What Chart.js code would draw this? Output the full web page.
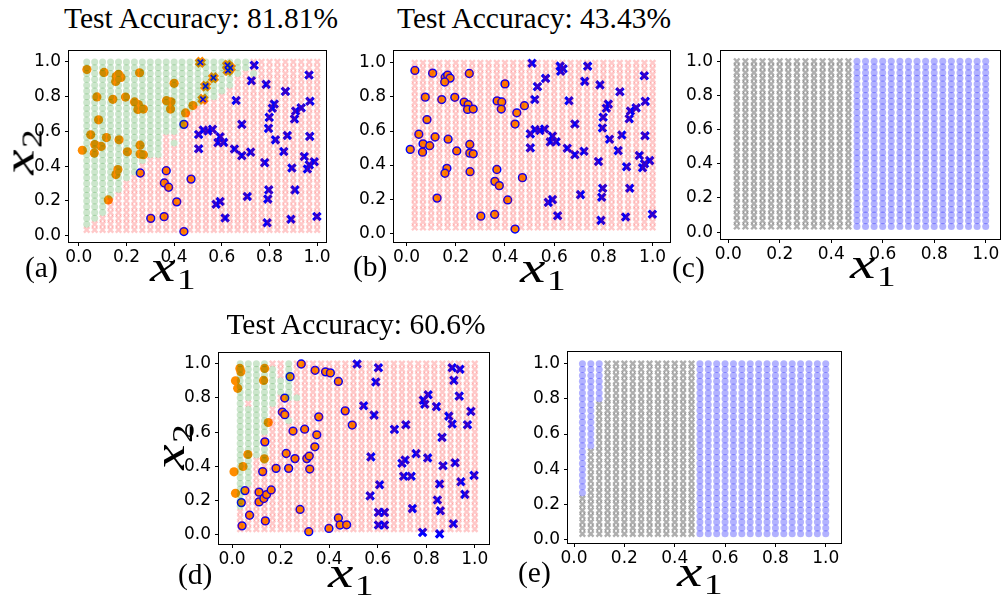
<!DOCTYPE html>
<html><head><meta charset="utf-8">
<script src="https://cdn.jsdelivr.net/npm/chart.js@4.4.1/dist/chart.umd.min.js"></script>
<style>
html,body{margin:0;padding:0;background:#fff;}
#fig{position:relative;width:1004px;height:599px;overflow:hidden;background:#fff;}
#fig canvas{position:absolute;}
.lab{position:absolute;font-family:'Liberation Serif','Times New Roman',serif;white-space:nowrap;line-height:1;color:#000;}
</style></head><body><div id="fig"></div>
<script>
// ---------- values ----------
const mesh = [0.0333,0.0667,0.1,0.1333,0.1667,0.2,0.2333,0.2667,0.3,0.3333,0.3667,0.4,0.4333,0.4667,0.5,
              0.5333,0.5667,0.6,0.6333,0.6667,0.7,0.7333,0.7667,0.8,0.8333,0.8667,0.9,0.9333,0.9667,1.0];
const tickValues = [0, 0.2, 0.4, 0.6, 0.8, 1.0];
const titles = {a:'Test Accuracy: 81.81%', b:'Test Accuracy: 43.43%', d:'Test Accuracy: 60.6%'};

// (a) lowest mesh row (1-based) predicted class 0 in each mesh column; 31 = none
const aGreenFrom = [2,3,4,7,8,10,11,13,14,14,18,18,19,22,23,24,24,25,26,28,29,31,31,31,31,31,31,31,31,31];
const aGreenExtra = [[12,16],[22,28]];
// (d) class-0 ranges per column
const dGreenFrom = [5,9,14,13,23,25,24,24,31,31,31,31,31,31,31,31,31,31,31,31,31,31,31,31,31,31,31,31,31,31];
const dGreenTo   = [30,30,30,30,29,27,30,24,0,0,0,0,0,0,0,0,0,0,0,0,0,0,0,0,0,0,0,0,0,0];
const dGreenExtra = [[7,20]];
const dPinkHoles = [[2,23],[4,16],[4,17]];
// (c) and (e): lowest row of the circle class per column
const cCircleFrom = [31,31,31,31,31,31,31,31,31,31,31,31,31,31,1,1,1,1,1,1,1,1,1,1,1,1,1,1,1,1];
const eCircleFrom = [8,16,24,31,31,31,31,31,31,31,31,31,31,31,1,1,1,1,1,1,1,1,1,1,1,1,1,1,1,1];

// (a)/(b) data: class 0 circles
const abCirclesHit = [[0.034,0.956],[0.106,0.940],[0.157,0.916],[0.167,0.929],[0.177,0.911],[0.155,0.888],
 [0.255,0.938],[0.400,0.877],[0.076,0.799],[0.143,0.785],[0.196,0.798],[0.234,0.770],[0.250,0.755],[0.248,0.727],
 [0.271,0.729],[0.368,0.777],[0.387,0.771],[0.385,0.729],[0.479,0.749],[0.448,0.707],[0.083,0.667],[0.050,0.581],
 [0.116,0.565],[0.169,0.552],[0.015,0.492],[0.067,0.525],[0.094,0.514],[0.065,0.476],[0.204,0.483],[0.257,0.521],
 [0.257,0.470],[0.271,0.466],[0.164,0.381],[0.156,0.352],[0.124,0.206]];
const abCirclesMiss = [[0.441,0.641],[0.258,0.361],[0.367,0.374],[0.359,0.304],[0.377,0.279],[0.471,0.326],
 [0.411,0.195],[0.302,0.100],[0.358,0.110],[0.441,0.024]];
// (a)/(b) data: class 1 crosses
const abCrossesHit = [[0.736,0.981],[0.966,0.925],[0.724,0.892],[0.786,0.871],[0.867,0.831],[0.660,0.778],
 [0.970,0.774],[0.820,0.758],[0.812,0.734],[0.933,0.736],[0.910,0.718],[0.905,0.672],[0.799,0.681],[0.684,0.641],
 [0.796,0.618],[0.503,0.583],[0.522,0.608],[0.542,0.603],[0.561,0.612],[0.593,0.570],[0.584,0.536],[0.608,0.537],
 [0.875,0.577],[0.969,0.572],[0.825,0.552],[0.503,0.501],[0.653,0.499],[0.684,0.461],[0.721,0.481],[0.860,0.485],
 [0.780,0.421],[0.946,0.456],[0.988,0.426],[0.967,0.408],[0.959,0.384],[0.894,0.390],[0.797,0.264],[0.907,0.264],
 [0.793,0.211],[0.707,0.226],[0.593,0.197],[0.576,0.181],[0.614,0.102],[0.790,0.075],[0.890,0.095],[0.999,0.111]];
const abCrossesMiss = [[0.510,0.998],[0.624,0.981],[0.636,0.966],[0.626,0.951],[0.565,0.909],[0.532,0.861],[0.521,0.785]];

// (d) data
const dCirclesHit = [[0.032,0.972],[0.036,0.952],[0.014,0.900],[0.023,0.856],[0.134,0.972],[0.130,0.902],
 [0.149,0.656],[0.065,0.469],[0.045,0.399],[0.008,0.368],[0.133,0.444],[0.014,0.242]];
const dCirclesMiss = [[0.285,0.998],[0.342,0.961],[0.385,0.952],[0.405,0.946],[0.438,0.896],[0.239,0.924],
 [0.217,0.799],[0.207,0.717],[0.217,0.702],[0.357,0.689],[0.466,0.724],[0.495,0.641],[0.251,0.606],[0.299,0.617],
 [0.349,0.584],[0.341,0.514],[0.223,0.475],[0.259,0.445],[0.308,0.445],[0.318,0.460],[0.135,0.543],[0.126,0.369],
 [0.181,0.388],[0.233,0.388],[0.320,0.384],[0.053,0.258],[0.038,0.188],[0.111,0.249],[0.111,0.192],[0.131,0.212],
 [0.142,0.235],[0.161,0.262],[0.072,0.114],[0.137,0.081],[0.041,0.052],[0.280,0.148],[0.316,0.018],[0.399,0.037],
 [0.438,0.098],[0.445,0.057],[0.472,0.058]];
const dCrosses = [[0.515,0.998],[0.603,0.976],[0.592,0.893],[0.542,0.754],[0.585,0.699],[0.669,0.616],[0.716,0.643],
 [0.758,0.474],[0.713,0.437],[0.700,0.418],[0.572,0.455],[0.707,0.342],[0.738,0.342],[0.569,0.227],[0.608,0.292],
 [0.743,0.153],[0.603,0.131],[0.628,0.131],[0.603,0.057],[0.628,0.057],[0.788,0.787],[0.794,0.763],[0.808,0.818],
 [0.842,0.749],[0.865,0.569],[0.869,0.403],[0.806,0.449],[0.855,0.297],[0.846,0.203],[0.858,0.140],[0.785,0.014],
 [0.855,0.005],[0.907,0.976],[0.939,0.967],[0.914,0.902],[0.936,0.810],[0.893,0.693],[0.907,0.647],[0.984,0.721],
 [0.970,0.643],[0.919,0.421],[0.943,0.310],[0.959,0.236],[0.997,0.347],[0.912,0.064]];

// ---------- styles ----------
const GREEN = 'rgba(0,128,0,0.2)', PINK = 'rgba(255,0,0,0.21)';
const GRAY = 'rgba(95,95,95,0.5)', LBLUE = 'rgba(0,0,255,0.3)';
const ORANGE = '#ff8c00', BLUE = '#0000ff';

Chart.defaults.font.family = "'DejaVu Sans', sans-serif";

const fig = document.getElementById('fig');
const pts = arr => arr.map(p => ({x: p[0], y: p[1]}));
function meshSplit(isFirst) {
  const p = [], q = [];
  for (let k = 0; k < mesh.length; k++) for (let j = 0; j < mesh.length; j++) {
    (isFirst(k + 1, j + 1) ? p : q).push({x: mesh[k], y: mesh[j]});
  }
  return [p, q];
}
const has = (list, k, j) => list.some(e => e[0] === k && e[1] === j);

// the translucent mesh is drawn over the data points (lowest order = drawn last)
const gridCircle = (data, color) => ({data, order: 0, pointStyle: 'circle', pointRadius: 3.5,
  pointBorderWidth: 0, pointBackgroundColor: color, pointBorderColor: 'rgba(0,0,0,0)'});
const gridCross = (data, color) => ({data, order: 0, pointStyle: 'crossRot', pointRadius: 3.9,
  pointBorderWidth: 2.4, pointBorderColor: color, pointBackgroundColor: color});
const circHit = data => ({data: pts(data), order: 6, pointStyle: 'circle', pointRadius: 4.6,
  pointBorderWidth: 0, pointBackgroundColor: ORANGE, pointBorderColor: ORANGE});
const circMiss = data => ({data: pts(data), order: 6, pointStyle: 'circle', pointRadius: 3.9,
  pointBorderWidth: 1.5, pointBackgroundColor: ORANGE, pointBorderColor: BLUE});
const crossHit = data => ({data: pts(data), order: 4, pointStyle: 'crossRot', pointRadius: 5.2,
  pointBorderWidth: 3.2, pointBorderColor: BLUE, pointBackgroundColor: BLUE});
const crossMissEdge = data => ({data: pts(data), order: 5, pointStyle: 'crossRot', pointRadius: 5.4,
  pointBorderWidth: 5.4, pointBorderColor: ORANGE, pointBackgroundColor: ORANGE});
const crossMissFace = data => ({data: pts(data), order: 4, pointStyle: 'crossRot', pointRadius: 3.8,
  pointBorderWidth: 1.7, pointBorderColor: BLUE, pointBackgroundColor: BLUE});

const framePlugin = {id: 'frame', afterDraw(c) {
  const a = c.chartArea, x = c.ctx;
  x.save(); x.strokeStyle = '#000'; x.lineWidth = 1;
  x.strokeRect(Math.round(a.left) - 0.5, Math.round(a.top) - 0.5,
               Math.round(a.right - a.left) + 1, Math.round(a.bottom - a.top) + 1);
  x.restore();
}};

function panel(box, lim, datasets) {
  const padL = 60, padR = 4, padT = 4, padB = 32;
  const w = box.R - box.L + padL + padR, h = box.B - box.T + padT + padB;
  const cv = document.createElement('canvas');
  cv.width = w; cv.height = h;
  cv.style.left = (box.L - padL) + 'px'; cv.style.top = (box.T - padT) + 'px';
  cv.style.width = w + 'px'; cv.style.height = h + 'px';
  fig.appendChild(cv);
  const axis = (min, max, isX) => ({
    type: 'linear', min, max,
    afterFit: s => { if (isX) s.height = padB; else s.width = padL; },
    afterBuildTicks: s => { s.ticks = tickValues.map(v => ({value: v})); },
    ticks: {callback: v => Number(v).toFixed(1), color: '#000', font: {size: 17},
            padding: isX ? 1 : 4, maxRotation: 0, autoSkip: false},
    grid: {display: true, drawOnChartArea: false, drawTicks: true, tickLength: 4,
           tickColor: '#000', tickWidth: 1},
    border: {display: false}
  });
  new Chart(cv, {
    type: 'scatter',
    data: {datasets},
    options: {
      responsive: false, animation: false, devicePixelRatio: 1, events: [],
      layout: {padding: {left: 0, right: padR, top: padT, bottom: 0}},
      plugins: {legend: {display: false}, tooltip: {enabled: false}},
      scales: {x: axis(lim.x0, lim.x1, true), y: axis(lim.y0, lim.y1, false)}
    },
    plugins: [framePlugin]
  });
}

// ---------- panels ----------
const [aG, aP] = meshSplit((k, j) => j >= aGreenFrom[k - 1] || has(aGreenExtra, k, j));
panel({L: 69, T: 41, R: 333, B: 242}, {x0: -0.041, x1: 1.038, y0: -0.036, y1: 1.062}, [
  gridCircle(aG, GREEN), gridCross(aP, PINK),
  circHit(abCirclesHit), circMiss(abCirclesMiss),
  crossHit(abCrossesHit), crossMissEdge(abCrossesMiss), crossMissFace(abCrossesMiss)]);

const [bG, bP] = meshSplit(() => false);
panel({L: 394, T: 41, R: 674, B: 242}, {x0: -0.051, x1: 1.069, y0: -0.052, y1: 1.069}, [
  gridCross(bP, PINK),
  circMiss(abCirclesHit), circMiss(abCirclesMiss),
  crossHit(abCrossesHit), crossHit(abCrossesMiss)]);

const [cB, cX] = meshSplit((k, j) => j >= cCircleFrom[k - 1]);
panel({L: 721, T: 41, R: 1002, B: 239}, {x0: -0.028, x1: 1.054, y0: -0.040, y1: 1.059}, [
  gridCircle(cB, LBLUE), gridCross(cX, GRAY)]);

const [dG, dP] = meshSplit((k, j) => (j >= dGreenFrom[k - 1] && j <= dGreenTo[k - 1] && !has(dPinkHoles, k, j)) || has(dGreenExtra, k, j));
panel({L: 219, T: 343, R: 493, B: 544}, {x0: -0.054, x1: 1.057, y0: -0.054, y1: 1.061}, [
  gridCircle(dG, GREEN), gridCross(dP, PINK),
  circHit(dCirclesHit), circMiss(dCirclesMiss), crossHit(dCrosses)]);

const [eB, eX] = meshSplit((k, j) => j >= eCircleFrom[k - 1]);
panel({L: 568, T: 342, R: 843, B: 543}, {x0: -0.024, x1: 1.059, y0: -0.019, y1: 1.065}, [
  gridCircle(eB, LBLUE), gridCross(eX, GRAY)]);

// ---------- texts ----------
function text(html, size, o) {
  const d = document.createElement('div');
  d.className = 'lab'; d.innerHTML = html; d.style.fontSize = size + 'px';
  fig.appendChild(d);
  const top = o.baseline - 0.8375 * size;
  if (o.cx !== undefined) { d.style.left = (o.cx - 250) + 'px'; d.style.width = '500px'; d.style.textAlign = 'center'; }
  else d.style.left = o.left + 'px';
  d.style.top = top + 'px';
  return d;
}
text(titles.a, 29.5, {cx: 201, baseline: 28.3});
text(titles.b, 29.5, {cx: 534, baseline: 28.3});
text(titles.d, 29.5, {cx: 356, baseline: 334.3});
[['(a)', 25, 278], ['(b)', 353, 277], ['(c)', 672, 278], ['(d)', 178, 585], ['(e)', 518, 583]]
  .forEach(t => text(t[0], 29.5, {left: t[1], baseline: t[2]}));

const sub = n => '<i>x</i><span style="font-size:29px;position:relative;top:8px;margin-left:1px">' + n + '</span>';
[[150, 281.7], [520, 283.3], [850, 279], [328, 588], [677, 586.7]].forEach(p => {
  const d = text(sub(1), 44, {left: p[0], baseline: p[1]});
  d.style.transformOrigin = '0 0'; d.style.transform = 'scaleX(1.3)';
});
[[19, 151.7], [169, 446.5]].forEach(p => {
  const d = text(sub(2), 44, {left: 0, baseline: 0});
  const w = d.offsetWidth, h = d.offsetHeight;
  d.style.left = (p[0] - w / 2) + 'px'; d.style.top = (p[1] - h / 2) + 'px';
  d.style.transformOrigin = '50% 50%'; d.style.transform = 'rotate(-90deg) scaleX(1.3)';
});
</script></body></html>
